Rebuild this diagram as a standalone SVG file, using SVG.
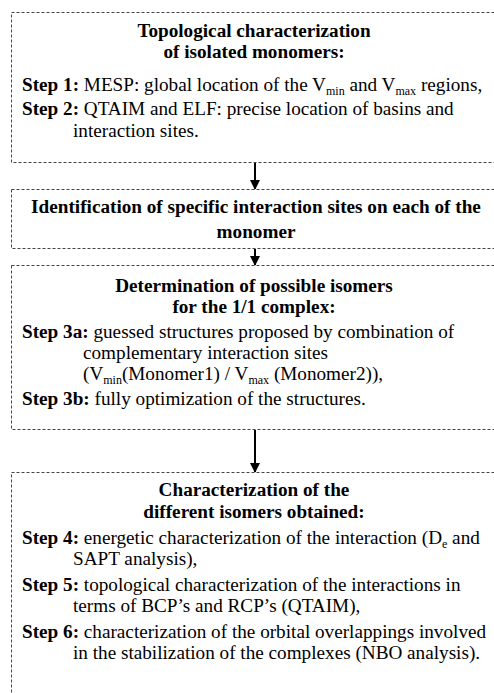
<svg xmlns="http://www.w3.org/2000/svg" width="494" height="693" viewBox="0 0 494 693">
<style>
.box{fill:#fff;stroke:#444;stroke-width:1;stroke-dasharray:3,2}
text{font-family:"Liberation Serif","Times New Roman",serif;font-size:19.2px;fill:#000}
.t{font-weight:bold;text-anchor:middle}
.b{font-weight:bold}
.s{font-size:12px}
.c{stroke:#000;stroke-width:2}
</style>
<defs>
<marker id="ah" markerWidth="10" markerHeight="10" refX="9" refY="5" orient="auto" markerUnits="userSpaceOnUse">
<path d="M0,0 L10,5 L0,10 z" fill="#000"/>
</marker>
</defs>
<rect width="494" height="693" fill="#fff"/>
<g id="connectors">
<line class="c" x1="255" y1="163" x2="255" y2="189" marker-end="url(#ah)"/>
<line class="c" x1="255" y1="249" x2="255" y2="265" marker-end="url(#ah)"/>
<line class="c" x1="255" y1="430" x2="255" y2="472" marker-end="url(#ah)"/>
</g>
<g id="node1">
<rect class="box" x="11.5" y="12.5" width="495" height="150"/>
<text class="t" x="254" y="37">Topological characterization</text>
<text class="t" x="254" y="58">of isolated monomers:</text>
<text x="22" y="91"><tspan class="b">Step 1:</tspan> MESP: global location of the V<tspan class="s" dy="4">min</tspan><tspan dy="-4"> and V</tspan><tspan class="s" dy="4">max</tspan><tspan dy="-4"> regions,</tspan></text>
<text x="22" y="115"><tspan class="b">Step 2:</tspan> QTAIM and ELF: precise location of basins and</text>
<text x="73" y="137">interaction sites.</text>
</g>
<g id="node2">
<rect class="box" x="11.5" y="189.5" width="495" height="59"/>
<text class="t" x="256" y="213">Identification of specific interaction sites on each of the</text>
<text class="t" x="256" y="238">monomer</text>
</g>
<g id="node3">
<rect class="box" x="11.5" y="265.5" width="495" height="164"/>
<text class="t" x="254" y="292">Determination of possible isomers</text>
<text class="t" x="254" y="313">for the 1/1 complex:</text>
<text x="22" y="338"><tspan class="b">Step 3a:</tspan> guessed structures proposed by combination of</text>
<text x="83" y="359">complementary interaction sites</text>
<text x="83" y="380">(V<tspan class="s" dy="4">min</tspan><tspan dy="-4">(Monomer1) / V</tspan><tspan class="s" dy="4">max</tspan><tspan dy="-4"> (Monomer2)),</tspan></text>
<text x="22" y="405"><tspan class="b">Step 3b:</tspan> fully optimization of the structures.</text>
</g>
<g id="node4">
<rect class="box" x="11.5" y="472.5" width="495" height="240"/>
<text class="t" x="254" y="496">Characterization of the</text>
<text class="t" x="254" y="518">different isomers obtained:</text>
<text x="22" y="544"><tspan class="b">Step 4:</tspan> energetic characterization of the interaction (D<tspan class="s" dy="4">e</tspan><tspan dy="-4"> and</tspan></text>
<text x="73" y="565">SAPT analysis),</text>
<text x="22" y="591"><tspan class="b">Step 5:</tspan> topological characterization of the interactions in</text>
<text x="73" y="612">terms of BCP’s and RCP’s (QTAIM),</text>
<text x="22" y="638"><tspan class="b">Step 6:</tspan> characterization of the orbital overlappings involved</text>
<text x="73" y="659">in the stabilization of the complexes (NBO analysis).</text>
</g>
</svg>
